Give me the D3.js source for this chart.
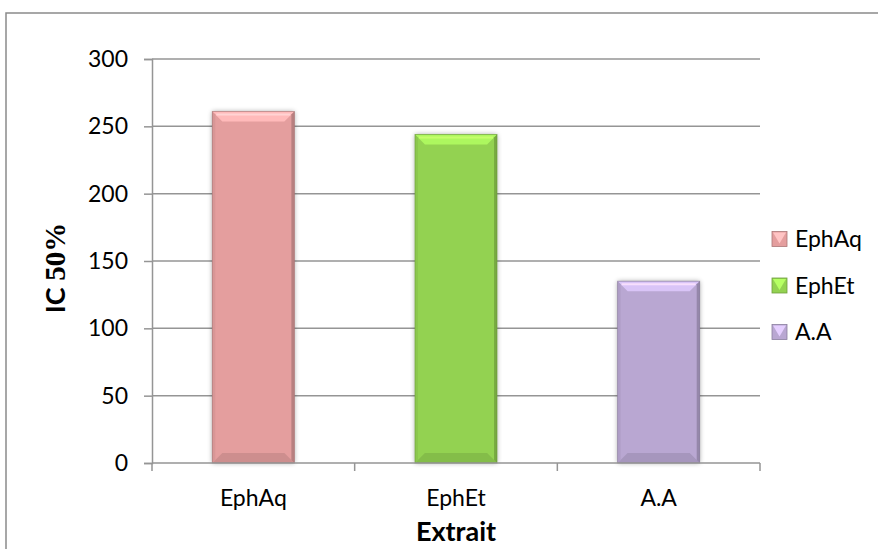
<!DOCTYPE html>
<html>
<head>
<meta charset="utf-8">
<script src="https://cdn.jsdelivr.net/npm/d3@7"></script>
<style>
  html, body { margin: 0; padding: 0; background: #fff; }
  svg { display: block; }
</style>
</head>
<body>
<svg id="chart" width="878" height="549"></svg>
<script>
// Extract names and IC50 values
const categories = ["EphAq", "EphEt", "A.A"];
const ic50 = [261, 244, 135];
const barColors = ["#E49E9E", "#93D251", "#B9A7D2"];
const yTicks = [0, 50, 100, 150, 200, 250, 300];
const yTitle = ["IC ", "50%"];
const xTitle = "Extrait";

const svg = d3.select("#chart");
const W = 878, H = 549;
const plot = { left: 152, right: 760, top: 59, bottom: 463 };

// Outer frame
svg.append("rect")
  .attr("x", 6).attr("y", 13)
  .attr("width", W + 10).attr("height", H + 10)
  .attr("fill", "#fff").attr("stroke", "#8a8a8a").attr("stroke-width", 1.5);

const x = d3.scaleBand().domain(categories)
  .range([plot.left, plot.right]).paddingInner(0.595).paddingOuter(0.2975);
const xBand = d3.scaleBand().domain(categories).range([plot.left, plot.right]);
const y = d3.scaleLinear().domain([0, 300]).range([plot.bottom, plot.top]);

const font = "Lato, 'Open Sans', sans-serif";

// Horizontal gridlines
svg.append("g").selectAll("line").data(yTicks.filter(d => d > 0)).join("line")
  .attr("x1", plot.left).attr("x2", plot.right)
  .attr("y1", d => y(d)).attr("y2", d => y(d))
  .attr("stroke", "#959595").attr("stroke-width", 1.5);

// Y axis
const yAxis = svg.append("g").attr("transform", `translate(${plot.left},0)`)
  .call(d3.axisLeft(y).tickValues(yTicks).tickSize(8).tickPadding(16));
yAxis.select(".domain").attr("stroke", "#959595").attr("stroke-width", 1.5);
yAxis.selectAll(".tick line").attr("stroke", "#959595").attr("stroke-width", 1.5);
yAxis.selectAll(".tick text").attr("font-family", font).attr("font-size", 23)
  .attr("fill", "#000");

// Defs for bar shading
const defs = svg.append("defs");
const shadow = defs.append("filter").attr("id", "shadow")
  .attr("x", "-20%").attr("y", "-10%").attr("width", "140%").attr("height", "120%");
shadow.append("feGaussianBlur").attr("in", "SourceAlpha").attr("stdDeviation", 2.5);
shadow.append("feOffset").attr("dx", 0).attr("dy", 0).attr("result", "b");
shadow.append("feComponentTransfer").append("feFuncA").attr("type", "linear").attr("slope", 0.35);
const merge = shadow.append("feMerge");
merge.append("feMergeNode");
merge.append("feMergeNode").attr("in", "SourceGraphic");

// Bars with bevelled tops
const bev = 10;
const bars = svg.append("g").selectAll("g").data(categories).join("g");
bars.each(function (c, i) {
  const g = d3.select(this);
  const x0 = x(c), bw = x.bandwidth();
  const y0 = y(ic50[i]), y1 = y(0);
  const base = d3.color(barColors[i]);
  g.append("rect").attr("x", x0).attr("y", y0).attr("width", bw).attr("height", y1 - y0)
    .attr("fill", base.formatHex()).attr("filter", "url(#shadow)");
  // top bevel
  g.append("path")
    .attr("d", `M${x0},${y0} L${x0 + bw},${y0} L${x0 + bw - bev},${y0 + bev} L${x0 + bev},${y0 + bev} Z`)
    .attr("fill", base.brighter(0.45).formatHex());
  g.append("path")
    .attr("d", `M${x0 + 4},${y0 + 3} L${x0 + bw - 4},${y0 + 3}`)
    .attr("stroke", base.brighter(0.9).formatHex()).attr("stroke-width", 2).attr("opacity", 0.8);
  // bottom bevel
  g.append("path")
    .attr("d", `M${x0},${y1} L${x0 + bw},${y1} L${x0 + bw - bev},${y1 - bev} L${x0 + bev},${y1 - bev} Z`)
    .attr("fill", base.darker(0.3).formatHex());
  // side bevels
  g.append("path")
    .attr("d", `M${x0},${y0} L${x0 + 3},${y0 + 3} L${x0 + 3},${y1 - 3} L${x0},${y1} Z`)
    .attr("fill", base.darker(0.15).formatHex());
  g.append("path")
    .attr("d", `M${x0 + bw},${y0} L${x0 + bw - 3},${y0 + 3} L${x0 + bw - 3},${y1 - 3} L${x0 + bw},${y1} Z`)
    .attr("fill", base.darker(0.6).formatHex());
  g.append("rect").attr("x", x0).attr("y", y0).attr("width", bw).attr("height", y1 - y0)
    .attr("fill", "none").attr("stroke", base.darker(1.2).formatHex()).attr("stroke-width", 0.8)
    .attr("stroke-opacity", 0.6);
});

// X axis baseline and boundary ticks
svg.append("line").attr("x1", plot.left).attr("x2", plot.right)
  .attr("y1", y(0)).attr("y2", y(0)).attr("stroke", "#959595").attr("stroke-width", 1.5);
const bounds = categories.map(c => xBand(c)).concat([plot.right]);
svg.append("g").selectAll("line").data(bounds).join("line")
  .attr("x1", d => d).attr("x2", d => d)
  .attr("y1", y(0)).attr("y2", y(0) + 8)
  .attr("stroke", "#959595").attr("stroke-width", 1.5);

// Category labels
svg.append("g").selectAll("text").data(categories).join("text")
  .attr("x", c => xBand(c) + xBand.bandwidth() / 2)
  .attr("y", 506)
  .attr("text-anchor", "middle")
  .attr("font-family", font).attr("font-size", 23).attr("fill", "#000")
  .text(c => c);

// Axis titles
svg.append("text").attr("x", (plot.left + plot.right) / 2).attr("y", 541)
  .attr("text-anchor", "middle").attr("font-family", font).attr("font-weight", "bold")
  .attr("font-size", 27).attr("fill", "#000").text(xTitle);

const yt = svg.append("text")
  .attr("transform", "translate(65,268) rotate(-90)")
  .attr("text-anchor", "middle").attr("font-weight", "bold").attr("fill", "#000");
yt.append("tspan").attr("font-family", font).attr("font-size", 27).text(yTitle[0]);
yt.append("tspan").attr("font-family", "'Liberation Serif', 'Times New Roman', serif")
  .attr("font-size", 29).text(yTitle[1]);

// Legend
const legendY = d3.scalePoint().domain(categories).range([239, 332]);
const leg = svg.append("g").selectAll("g").data(categories).join("g")
  .attr("transform", c => `translate(772,${legendY(c)})`);
leg.each(function (c, i) {
  const g = d3.select(this);
  const base = d3.color(barColors[i]);
  const s = 15;
  g.append("rect").attr("x", 0).attr("y", -s / 2).attr("width", s).attr("height", s)
    .attr("fill", base.formatHex()).attr("stroke", base.darker(0.8).formatHex()).attr("stroke-width", 0.8);
  g.append("path").attr("d", `M1,${-s / 2 + 1} L${s - 1},${-s / 2 + 1} L${s / 2},${s / 2 - 3} Z`)
    .attr("fill", base.brighter(0.6).formatHex());
  g.append("text").attr("x", 23).attr("y", 8)
    .attr("font-family", font).attr("font-size", 23).attr("fill", "#000").text(c);
});
</script>
</body>
</html>
